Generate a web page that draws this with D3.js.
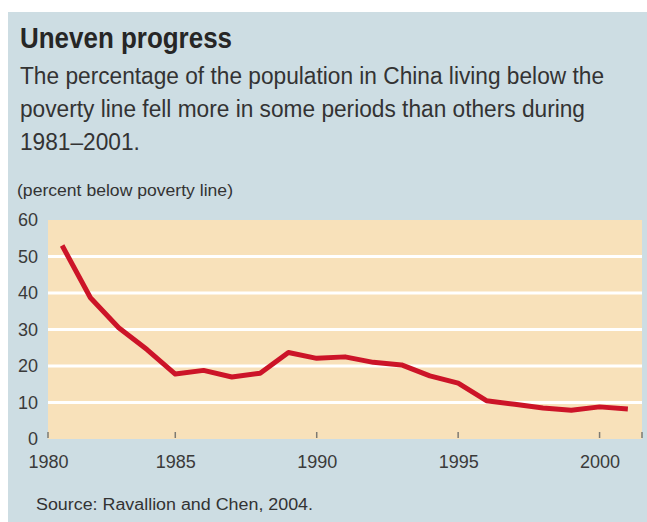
<!DOCTYPE html>
<html>
<head>
<meta charset="utf-8">
<script src="https://cdn.jsdelivr.net/npm/d3@7"></script>
<style>
  html, body { margin: 0; padding: 0; background: #ffffff; }
  svg { display: block; }
  text { font-family: "Liberation Sans", Arial, sans-serif; }
</style>
</head>
<body>
<svg id="chart" width="647" height="522"></svg>
<script>
// ---- Data ----
const years = [1981, 1982, 1983, 1984, 1985, 1986, 1987, 1988, 1989, 1990,
               1991, 1992, 1993, 1994, 1995, 1996, 1997, 1998, 1999, 2000, 2001];
const povertyPct = [53.0, 38.7, 30.5, 24.5, 17.8, 18.8, 17.0, 18.0, 23.7, 22.1,
                    22.5, 21.0, 20.3, 17.3, 15.3, 10.5, 9.5, 8.5, 7.9, 8.8, 8.2];
const xTickValues = [1980, 1985, 1990, 1995, 2000];
const yTickValues = [0, 10, 20, 30, 40, 50, 60];
const titleText = "Uneven progress";
const subtitleLines = [
  "The percentage of the population in China living below the",
  "poverty line fell more in some periods than others during",
  "1981\u20132001."
];
const axisTitle = "(percent below poverty line)";
const sourceText = "Source: Ravallion and Chen, 2004.";

// ---- Layout ----
const W = 647, H = 522;
const svg = d3.select("#chart");

// background panel
svg.append("rect").attr("x", 8).attr("y", 12).attr("width", W - 8).attr("height", H - 12)
  .attr("fill", "#cddde3");

const x = d3.scaleLinear().domain([1980.5, 2001.5]).range([48, 642]).clamp(true);
const y = d3.scaleLinear().domain([0, 60]).range([439, 220]);

// plot background
svg.append("rect")
  .attr("x", x.range()[0]).attr("y", y(60))
  .attr("width", x.range()[1] - x.range()[0]).attr("height", y(0) - y(60))
  .attr("fill", "#f8e1ba");

// gridlines
svg.append("g").selectAll("line")
  .data(yTickValues.filter(v => v > 0 && v < 60))
  .join("line")
  .attr("x1", x.range()[0]).attr("x2", x.range()[1])
  .attr("y1", d => y(d)).attr("y2", d => y(d))
  .attr("stroke", "#ffffff").attr("stroke-width", 3);

// x tick marks (inside plot, at bottom)
svg.append("g").selectAll("line")
  .data(xTickValues.concat([x.domain()[1]]))
  .join("line")
  .attr("x1", d => x(d)).attr("x2", d => x(d))
  .attr("y1", y(0) - 7).attr("y2", y(0) - 1)
  .attr("stroke", "#7d7a72").attr("stroke-width", 1.5);

// line
const line = d3.line().x((d, i) => x(years[i])).y(d => y(d)).curve(d3.curveLinear);
svg.append("path")
  .datum(povertyPct)
  .attr("d", line)
  .attr("fill", "none")
  .attr("stroke", "#cc1428")
  .attr("stroke-width", 5)
  .attr("stroke-linejoin", "round");

// y axis
const yAxis = svg.append("g")
  .attr("transform", `translate(${x.range()[0]},0)`)
  .call(d3.axisLeft(y).tickValues(yTickValues).tickSize(0).tickPadding(10).tickFormat(d3.format("d")));
yAxis.select(".domain").remove();
yAxis.selectAll("text").attr("font-size", 18).attr("fill", "#3a3a3a")
  .attr("font-family", "Liberation Sans, Arial, sans-serif");

// x axis
const xAxis = svg.append("g")
  .attr("transform", `translate(0,${y(0)})`)
  .call(d3.axisBottom(x).tickValues(xTickValues).tickSize(0).tickPadding(16).tickFormat(d3.format("d")));
xAxis.select(".domain").remove();
xAxis.selectAll("text").attr("font-size", 18).attr("fill", "#3a3a3a")
  .attr("font-family", "Liberation Sans, Arial, sans-serif");

// helper to condense text to a target width
function fitText(sel, target) {
  const n = sel.node().getComputedTextLength();
  sel.attr("textLength", target).attr("lengthAdjust", "spacingAndGlyphs");
  return target / n;
}

// title
const t = svg.append("text").attr("x", 20).attr("y", 48)
  .attr("font-size", 29).attr("font-weight", "bold").attr("fill", "#262626")
  .text(titleText);
fitText(t, 212);

// subtitle
const subs = subtitleLines.map((s, i) =>
  svg.append("text").attr("x", 20).attr("y", 84 + i * 33)
    .attr("font-size", 23).attr("fill", "#333333").text(s));
const ratio = 584 / subs[0].node().getComputedTextLength();
subs.forEach(s => {
  const n = s.node().getComputedTextLength();
  s.attr("textLength", n * ratio).attr("lengthAdjust", "spacingAndGlyphs");
});

// axis title
const at = svg.append("text").attr("x", 17).attr("y", 196)
  .attr("font-size", 17).attr("fill", "#333333").text(axisTitle);
fitText(at, 216);

// source
const src = svg.append("text").attr("x", 36).attr("y", 510)
  .attr("font-size", 16).attr("fill", "#333333").text(sourceText);
fitText(src, 277);
</script>
</body>
</html>
